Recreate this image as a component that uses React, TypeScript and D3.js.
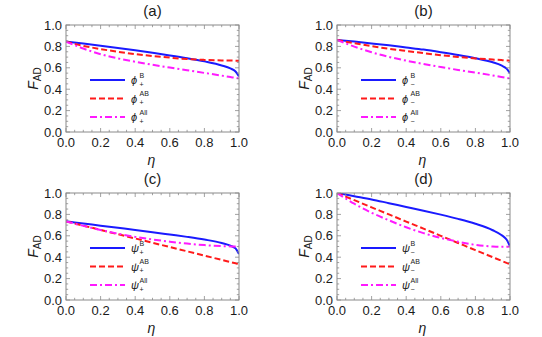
import * as d3 from "d3";
import React, { useEffect, useRef } from "react";

// shared abscissa (eta)
const eta = [0, 0.1, 0.2, 0.3, 0.4, 0.5, 0.6, 0.7, 0.8, 0.9, 0.95, 0.98, 1];

// (a) phi+
const aB = [0.845, 0.826, 0.806, 0.785, 0.763, 0.74, 0.716, 0.69, 0.66, 0.622, 0.594, 0.565, 0.52];
const aAB = [0.845, 0.805, 0.775, 0.75, 0.728, 0.71, 0.695, 0.682, 0.674, 0.669, 0.668, 0.667, 0.667];
const aAll = [0.845, 0.78, 0.727, 0.688, 0.657, 0.628, 0.602, 0.577, 0.552, 0.527, 0.513, 0.506, 0.5];

// (b) phi-
const bB = [0.86, 0.845, 0.828, 0.81, 0.79, 0.77, 0.746, 0.72, 0.69, 0.652, 0.622, 0.592, 0.55];
const bAB = [0.86, 0.83, 0.802, 0.778, 0.757, 0.737, 0.718, 0.702, 0.688, 0.677, 0.672, 0.669, 0.667];
const bAll = [0.86, 0.798, 0.745, 0.702, 0.667, 0.636, 0.607, 0.58, 0.555, 0.529, 0.515, 0.506, 0.5];

// (c) psi+
const cB = [0.735, 0.715, 0.695, 0.675, 0.655, 0.634, 0.612, 0.59, 0.565, 0.533, 0.508, 0.482, 0.43];
const cAB = [0.735, 0.695, 0.655, 0.615, 0.575, 0.535, 0.495, 0.455, 0.415, 0.375, 0.355, 0.343, 0.335];
const cAll = [0.735, 0.693, 0.655, 0.62, 0.59, 0.566, 0.545, 0.527, 0.513, 0.504, 0.501, 0.5, 0.5];

// (d) psi-
const dB = [1, 0.97, 0.94, 0.905, 0.87, 0.835, 0.798, 0.758, 0.712, 0.652, 0.608, 0.565, 0.5];
const dAB = [1, 0.933, 0.866, 0.8, 0.733, 0.667, 0.6, 0.533, 0.466, 0.4, 0.367, 0.347, 0.335];
const dAll = [1, 0.9, 0.815, 0.745, 0.68, 0.625, 0.58, 0.545, 0.515, 0.5, 0.497, 0.498, 0.5];

const panelTitles = ["(a)", "(b)", "(c)", "(d)"];
const stateSymbols = ["ϕ", "ϕ", "ψ", "ψ"];
const stateSigns = ["+", "−", "+", "−"];
const seriesSup = ["B", "AB", "All"];
const tickValues = [0, 0.2, 0.4, 0.6, 0.8, 1.0];

const W = 542;
const H = 337;

const App = () => {
  const ref = useRef<SVGSVGElement | null>(null);

  useEffect(() => {
    if (!ref.current) return;
    const svg = d3.select(ref.current);
    svg.selectAll("*").remove();

    const panels = [
      { series: [aB, aAB, aAll], left: 66, top: 25 },
      { series: [bB, bAB, bAll], left: 337, top: 25 },
      { series: [cB, cAB, cAll], left: 66, top: 193 },
      { series: [dB, dAB, dAll], left: 337, top: 193 },
    ];
    const pw = 173;
    const ph = 107;

    const styles = [
      { color: "#1a1aff", dash: null as string | null },
      { color: "#ff1a1a", dash: "6,3" },
      { color: "#ff1aff", dash: "7,3,2,3" },
    ];

    const font = "'Liberation Sans', Arial, sans-serif";

    panels.forEach((p, pi) => {
      const x = d3.scaleLinear().domain([0, 1]).range([0, pw]);
      const y = d3.scaleLinear().domain([0, 1]).range([ph, 0]);
      const g = svg.append("g").attr("transform", `translate(${p.left},${p.top})`);

      // clip
      const clipId = `clip${pi}`;
      g.append("clipPath").attr("id", clipId).append("rect").attr("width", pw).attr("height", ph);

      // curves
      const line = d3
        .line<number>()
        .x((_d, i) => x(eta[i]))
        .y((d) => y(d))
        .curve(d3.curveMonotoneX);

      p.series.forEach((s, si) => {
        g.append("path")
          .datum(s)
          .attr("clip-path", `url(#${clipId})`)
          .attr("fill", "none")
          .attr("stroke", styles[si].color)
          .attr("stroke-width", 2)
          .attr("stroke-dasharray", styles[si].dash)
          .attr("d", line);
      });

      // frame
      g.append("rect")
        .attr("width", pw)
        .attr("height", ph)
        .attr("fill", "none")
        .attr("stroke", "#8a8a8a")
        .attr("stroke-width", 1);

      // ticks on all sides (inside)
      const minor = d3.range(0, 1.0001, 0.05);
      const tk = g.append("g").attr("stroke", "#8a8a8a").attr("stroke-width", 0.8);
      minor.forEach((v) => {
        const isMajor = Math.abs(v * 5 - Math.round(v * 5)) < 1e-6;
        const len = isMajor ? 4 : 2.2;
        tk.append("line").attr("x1", x(v)).attr("x2", x(v)).attr("y1", ph).attr("y2", ph - len);
        tk.append("line").attr("x1", x(v)).attr("x2", x(v)).attr("y1", 0).attr("y2", len);
        tk.append("line").attr("x1", 0).attr("x2", len).attr("y1", y(v)).attr("y2", y(v));
        tk.append("line").attr("x1", pw).attr("x2", pw - len).attr("y1", y(v)).attr("y2", y(v));
      });

      // tick labels
      tickValues.forEach((v) => {
        g.append("text")
          .attr("x", x(v))
          .attr("y", ph + 15)
          .attr("text-anchor", "middle")
          .attr("font-family", font)
          .attr("font-size", 13)
          .attr("fill", "#1a1a1a")
          .text(v.toFixed(1));
        g.append("text")
          .attr("x", -4)
          .attr("y", y(v) + 4.5)
          .attr("text-anchor", "end")
          .attr("font-family", font)
          .attr("font-size", 13)
          .attr("fill", "#1a1a1a")
          .text(v.toFixed(1));
      });

      // axis labels
      g.append("text")
        .attr("x", pw / 2 - 1)
        .attr("y", ph + 33)
        .attr("text-anchor", "middle")
        .attr("font-family", font)
        .attr("font-style", "italic")
        .attr("font-size", 14)
        .attr("fill", "#1a1a1a")
        .text("η");

      const yl = g
        .append("text")
        .attr("transform", `translate(-28,${ph / 2}) rotate(-90)`)
        .attr("text-anchor", "middle")
        .attr("font-family", font)
        .attr("font-size", 14)
        .attr("fill", "#1a1a1a");
      yl.append("tspan").attr("font-style", "italic").text("F");
      yl.append("tspan").attr("font-size", 10).attr("dy", 3).text("AD");

      // title
      g.append("text")
        .attr("x", pw / 2)
        .attr("y", -9)
        .attr("text-anchor", "middle")
        .attr("font-family", font)
        .attr("font-size", 15)
        .attr("fill", "#1a1a1a")
        .text(panelTitles[pi]);

      // legend
      const ly0 = 55;
      const ldy = 18.5;
      seriesSup.forEach((sup, si) => {
        const ly = ly0 + si * ldy;
        g.append("line")
          .attr("x1", 24)
          .attr("x2", 59)
          .attr("y1", ly)
          .attr("y2", ly)
          .attr("stroke", styles[si].color)
          .attr("stroke-width", 2)
          .attr("stroke-dasharray", styles[si].dash);
        g.append("text")
          .attr("x", 65)
          .attr("y", ly + 4)
          .attr("font-family", font)
          .attr("font-style", "italic")
          .attr("font-size", 11)
          .attr("fill", "#222")
          .text(stateSymbols[pi]);
        g.append("text")
          .attr("x", 73.5)
          .attr("y", ly + 6.5)
          .attr("font-family", font)
          .attr("font-size", 7)
          .attr("fill", "#222")
          .text(stateSigns[pi]);
        g.append("text")
          .attr("x", 73.5)
          .attr("y", ly - 2.5)
          .attr("font-family", font)
          .attr("font-size", 7)
          .attr("fill", "#222")
          .text(sup);
      });
    });
  }, []);

  return (
    <svg
      ref={ref}
      width={W}
      height={H}
      style={{ position: "absolute", left: 0, top: 0, background: "#fff" }}
    />
  );
};

export default App;
